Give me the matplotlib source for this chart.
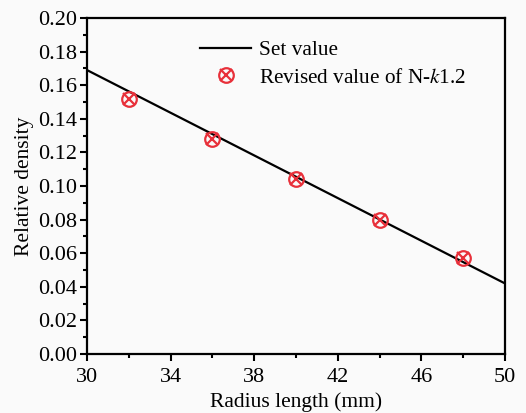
import matplotlib
matplotlib.use("Agg")
import matplotlib.pyplot as plt
from matplotlib.legend_handler import HandlerTuple
from matplotlib.ticker import FixedLocator, MultipleLocator, FormatStrFormatter

# set value line (endpoints)
set_x = [30, 50]
set_y = [0.169, 0.042]

# revised values of N-k1.2
rev_x = [32, 36, 40, 44, 48]
rev_y = [0.152, 0.128, 0.104, 0.080, 0.057]

x_ticks = [30, 34, 38, 42, 46, 50]

plt.rcParams["font.family"] = ["Liberation Serif", "DejaVu Serif"]
plt.rcParams["mathtext.fontset"] = "stix"

fig = plt.figure(figsize=(5.26, 4.13), dpi=100, facecolor="#fafafa")
ax = fig.add_axes([87 / 526, 59 / 413, 418 / 526, 336 / 413], facecolor="#fafafa")

line, = ax.plot(set_x, set_y, "-", color="black", lw=1.6)
red = "#e8303a"
m1, = ax.plot(rev_x, rev_y, "o", ms=10.5, mfc="none", mec=red, mew=1.6, ls="none")
m2, = ax.plot(rev_x, rev_y, "x", ms=9, mec=red, mew=1.6, ls="none")

ax.set_xlim(30, 50)
ax.set_ylim(0, 0.20)
ax.xaxis.set_major_locator(FixedLocator(x_ticks))
ax.xaxis.set_minor_locator(MultipleLocator(2))
ax.yaxis.set_major_locator(MultipleLocator(0.02))
ax.yaxis.set_minor_locator(MultipleLocator(0.01))
ax.yaxis.set_major_formatter(FormatStrFormatter("%.2f"))
ax.tick_params(which="both", direction="out", width=1.5, labelsize=16)
ax.tick_params(axis="y", pad=2)
ax.tick_params(axis="x", pad=5)
ax.tick_params(which="major", length=5)
ax.tick_params(which="minor", length=3)
for s in ax.spines.values():
    s.set_linewidth(1.6)

ax.set_xlabel("Radius length (mm)", fontsize=15.5, labelpad=4)
ax.set_ylabel("Relative density", fontsize=15.5, labelpad=3)

ax.legend([line, (m1, m2)], ["Set value", r"Revised value of N-$k$1.2"],
          handler_map={tuple: HandlerTuple(ndivide=1)},
          loc="upper left", bbox_to_anchor=(0.225, 0.99), frameon=False,
          fontsize=15.3, handlelength=2.4, handletextpad=0.38, labelspacing=0.35)

fig.savefig("out.png", dpi=100, facecolor=fig.get_facecolor())
